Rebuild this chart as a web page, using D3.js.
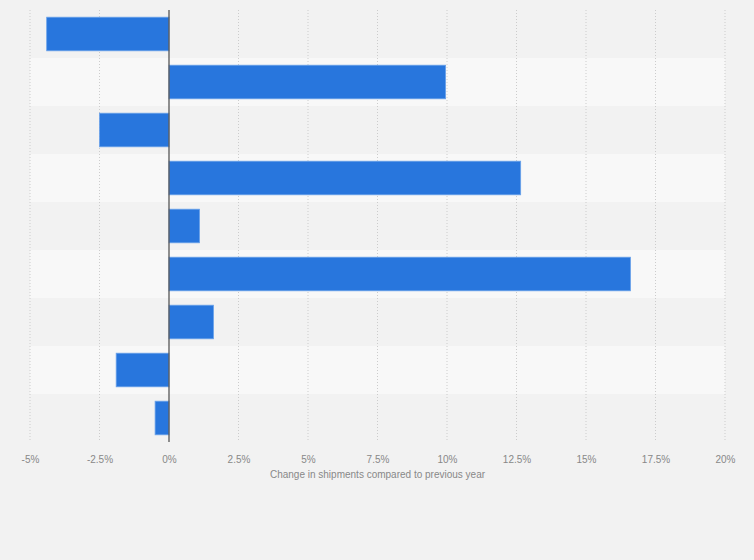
<!DOCTYPE html>
<html>
<head>
<meta charset="utf-8">
<script src="https://cdn.jsdelivr.net/npm/d3@7"></script>
<style>
  html, body { margin: 0; padding: 0; background: #f2f2f2; }
  svg { display: block; font-family: "Liberation Sans", Arial, sans-serif; }
</style>
</head>
<body>
<div id="chart"></div>
<script>
// one row per bar, top to bottom (no category labels shown in the source)
const rows = ["r1", "r2", "r3", "r4", "r5", "r6", "r7", "r8", "r9"];
const changes = [-4.4, 9.95, -2.5, 12.65, 1.1, 16.6, 1.6, -1.9, -0.5];
const tickValues = [-5, -2.5, 0, 2.5, 5, 7.5, 10, 12.5, 15, 17.5, 20];
const axisTitle = "Change in shipments compared to previous year";

const W = 754, H = 560;
const margin = {top: 10, right: 29, bottom: 118, left: 30};
const width = W - margin.left - margin.right;
const height = H - margin.top - margin.bottom;

const svg = d3.select("#chart").append("svg")
    .attr("width", W)
    .attr("height", H);

svg.append("rect")
    .attr("width", W).attr("height", H)
    .attr("fill", "#f2f2f2");

const g = svg.append("g")
    .attr("transform", `translate(${margin.left},${margin.top})`);

const x = d3.scaleLinear().domain([-5, 20]).range([0, width]);
const y = d3.scaleBand().domain(rows).range([0, height]).paddingInner(0.3).paddingOuter(0.15);
const band = d3.scaleBand().domain(rows).range([0, height]);

// alternating row stripes
g.selectAll("rect.stripe")
    .data(rows)
    .join("rect")
    .attr("class", "stripe")
    .attr("x", 0)
    .attr("y", d => band(d))
    .attr("width", width)
    .attr("height", band.bandwidth())
    .attr("fill", (d, i) => i % 2 ? "#f8f8f8" : "#f2f2f2");

// dotted grid
g.selectAll("line.grid")
    .data(tickValues.filter(v => v !== 0))
    .join("line")
    .attr("class", "grid")
    .attr("x1", d => x(d)).attr("x2", d => x(d))
    .attr("y1", 0).attr("y2", height)
    .attr("stroke", "#cccccc")
    .attr("stroke-width", 1)
    .attr("stroke-dasharray", "1,2");

// bars
g.selectAll("rect.bar")
    .data(changes)
    .join("rect")
    .attr("class", "bar")
    .attr("x", d => x(Math.min(0, d)))
    .attr("y", (d, i) => y(rows[i]))
    .attr("width", d => Math.abs(x(d) - x(0)))
    .attr("height", y.bandwidth())
    .attr("fill", "#2876dd")
    .attr("stroke", "#6aa2ea")
    .attr("stroke-width", 0.8);

// zero line
g.append("line")
    .attr("x1", x(0)).attr("x2", x(0))
    .attr("y1", 0).attr("y2", height)
    .attr("stroke", "#555")
    .attr("stroke-width", 1.3);

// x axis
const xAxis = g.append("g")
    .attr("transform", `translate(0,${height})`)
    .call(d3.axisBottom(x)
        .tickValues(tickValues)
        .tickSize(0)
        .tickPadding(14)
        .tickFormat(d => String(d) + "%"));
xAxis.select(".domain").remove();
xAxis.selectAll("text")
    .attr("fill", "#888")
    .style("font-size", "10px");

g.append("text")
    .attr("x", width / 2)
    .attr("y", height + 36)
    .attr("text-anchor", "middle")
    .attr("fill", "#888")
    .style("font-size", "10px")
    .text(axisTitle);
</script>
</body>
</html>
